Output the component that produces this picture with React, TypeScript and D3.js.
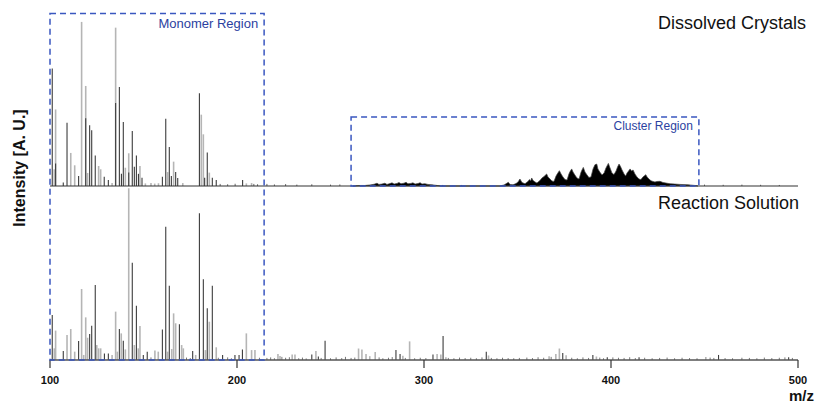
import React from "react";
import * as d3 from "d3";

// ---- Data (m/z, relative intensity 0-100 per panel) ----
const ticks = [100, 200, 300, 400, 500];

// Dissolved Crystals (top) - light gray peaks
const topLight: [number, number][] = [
  [102.3, 9.6], [103.0, 44], [111.1, 19], [113.2, 11.9], [116.9, 94.3], [119.1, 57.5], [120.1, 7.5],
  [126.0, 11.5], [127.1, 9.6], [133.2, 1.7], [135.1, 91], [140.3, 10.5], [142.1, 18.8], [148.1, 11.5],
  [151, 1.5], [154, 1.7], [156, 1.4], [158, 1.6], [162.9, 8], [166.1, 14], [171, 1.7], [180.9, 41],
  [182.0, 29.7], [185.2, 7.7], [205, 1.5], [207.8, 1.7],
];
// Dissolved Crystals (top) - dark peaks
const topDark: [number, number][] = [
  [101.2, 67.5], [103.0, 13], [107.1, 2], [109.1, 36.4], [115.3, 5.7], [119.1, 39], [121.2, 34.9],
  [122.3, 32], [124.2, 17.6], [129.0, 5.3], [131.2, 3.4], [135.1, 47.7], [137.1, 56.9], [138.2, 7],
  [139.2, 36.8], [142.1, 7.7], [144.0, 31.6], [145.1, 11], [146.2, 17.6], [147.3, 7], [149.2, 4.8],
  [160.1, 5.3], [161.9, 38.7], [163.8, 22.4], [164.9, 5.7], [167.2, 8], [168.3, 4.6], [179.9, 53.3],
  [182.7, 4.8], [184.1, 19.2], [186.8, 4.8], [188.9, 3.4], [203, 3.4],
];
const topNoise: [number, number][] = [
  [191, 1.2], [195, 1.0], [199, 1.3], [209, 1.2], [211, 1.0], [216, 1.2], [220, 0.9], [226, 1.1],
  [232, 0.8], [240, 1.0], [250, 0.8], [255, 0.9], [310, 0.6], [320, 0.6], [450, 0.8], [460, 0.7],
  [470, 0.8], [480, 0.7], [490, 0.6],
];
// Cluster envelope (top)
const clusterProfile: [number, number][] = [
  [262, 0], [265.8, 0.3], [268.4, 0.3], [271.1, 0.6], [273.3, 1.0], [274.9, 1.6], [275.9, 0.9],
  [277.5, 1.1], [279.1, 1.6], [280.2, 0.9], [281.8, 1.4], [282.9, 1.8], [284.0, 1.1], [285.6, 1.5],
  [286.6, 2.0], [287.7, 1.3], [289.3, 1.6], [290.4, 2.1], [291.4, 1.3], [293.0, 1.5], [294.1, 1.8],
  [295.2, 1.1], [296.8, 1.4], [297.9, 1.9], [298.9, 1.1], [300.5, 1.3], [302.1, 0.9], [304.3, 0.7],
  [307.0, 0.3], [309.6, 0],
  [340.6, 0], [342.8, 0.6], [345.1, 2.1], [346.0, 0.9], [347.6, 0.7], [349.2, 1.4], [350.3, 2.3],
  [351.3, 4.0], [352.4, 2.0], [354.0, 1.3], [355.6, 2.6], [356.4, 3.7], [357.0, 2.9], [357.6, 4.6],
  [358.3, 3.2], [359.4, 2.3], [360.4, 1.7], [362.0, 3.2], [363.1, 4.6], [364.2, 5.5], [365.6, 6.9],
  [366.3, 5.2], [367.4, 4.0], [368.4, 2.9], [369.5, 2.6], [370.6, 5.7], [371.4, 7.2], [372.4, 8.8],
  [373.3, 6.9], [374.3, 5.2], [375.4, 3.7], [376.5, 3.4], [377.5, 6.9], [378.1, 8.3], [379.0, 9.8],
  [379.7, 8.0], [380.7, 6.3], [381.8, 4.6], [382.9, 4.0], [384.0, 8.0], [384.5, 9.2], [385.2, 10.7],
  [386.1, 8.0], [387.2, 6.3], [388.2, 4.9], [389.3, 5.2], [390.4, 9.8], [391.4, 12.2], [392.4, 12.6],
  [393.0, 9.8], [394.1, 7.9], [395.2, 6.3], [396.3, 7.5], [397.3, 10.3], [398.6, 13.0], [399.5, 10.3],
  [400.5, 7.5], [401.6, 6.6], [402.7, 8.6], [403.5, 10.9], [404.3, 12.6], [405.1, 11.2], [405.9, 9.2],
  [407.0, 6.9], [407.8, 5.7], [408.6, 7.5], [409.4, 8.6], [410.2, 9.8], [411.0, 8.6], [411.8, 9.2],
  [412.8, 6.9], [413.9, 5.2], [415.0, 4.0], [416.0, 3.7], [417.1, 5.2], [418.6, 6.5], [419.3, 5.2],
  [420.3, 4.0], [421.4, 3.0], [422.5, 2.6], [423.5, 2.3], [424.6, 2.6], [426.2, 2.7], [427.8, 2.0],
  [429.4, 1.7], [431.6, 1.3], [434.2, 1.1], [436.9, 0.9], [441.2, 0.7], [444.9, 0.3], [446.5, 0],
];

// Reaction Solution (bottom) - light gray peaks
const botLight: [number, number][] = [
  [102.3, 6.7], [103.0, 16.9], [109.1, 14.4], [111.1, 17.8], [113.2, 4.8], [116.9, 40.8], [118.0, 2.9],
  [119.1, 24.5], [120.1, 12.8], [125.0, 8.6], [126.0, 6.7], [127.1, 6.7], [133.2, 2.9], [135.1, 27.8],
  [136.0, 4.8], [138.1, 15.3], [140.3, 6.1], [142.1, 98.7], [145.1, 8.6], [147.2, 6.7], [148.1, 19.5],
  [156.1, 5.4], [157.9, 4.8], [162.9, 4.8], [165.1, 6.3], [166.1, 26.8], [167.2, 21.1], [170.4, 8.6],
  [171.3, 6.7], [177.9, 2.9], [183.1, 5.7], [185.2, 22], [188.9, 7.3], [205, 15.3], [207.8, 5.7],
  [209.6, 5.7], [221.9, 3.4], [223, 2.3], [229.5, 3.2], [231, 3.2], [242.2, 5.2], [265, 6.6],
  [266.8, 6.1], [269, 3.4], [271, 2.2], [273.9, 4.6], [288.7, 2.5], [292.3, 10.7], [307, 3.4],
  [309, 3.2], [311.7, 1.6], [334.5, 2.6], [366.9, 2.2], [370.5, 3.4], [372.4, 6.6], [376, 2.8],
  [392.2, 2.0], [450.7, 1.7],
];
// Reaction Solution (bottom) - dark peaks
const botDark: [number, number][] = [
  [101.2, 25.9], [107.1, 5.2], [115.3, 10.9], [121.2, 14.9], [122.3, 19.7], [124.2, 43.1], [129.1, 3.8],
  [131.2, 3.8], [137.1, 17.8], [139.2, 11.1], [144.0, 55.9], [146.2, 31.2], [149.9, 2.9], [152.0, 4.8],
  [160.1, 17.6], [161.9, 76.6], [163.8, 42.7], [169.2, 20.5], [176.3, 5.2], [179.9, 84.3], [182.0, 46.4],
  [184.1, 29.7], [186.8, 42.7], [192.3, 2.9], [198.9, 2.9], [201.1, 2.9], [202.9, 6.1], [240, 3.2],
  [243.5, 2.0], [247.1, 11.1], [285, 5.7], [287.2, 3.4], [304.8, 3.2], [310.2, 13.8], [333.3, 4.8],
  [374.2, 4.0], [390.3, 2.9], [398, 1.6], [415, 1.6], [457.5, 2.9], [495, 1.6],
];
const botNoise: [number, number][] = [
  [154, 1.5], [158, 1.2], [173, 1.4], [175, 1.1], [190, 1.3], [195, 1.5], [197, 1.0], [212, 1.3],
  [216, 1.2], [218, 1.5], [220, 1.0], [224, 1.8], [226, 1.3], [228, 1.6], [233, 1.0], [235, 1.4],
  [237, 0.9], [245, 1.2], [250, 1.0], [253, 1.5], [256, 1.1], [258, 1.8], [261, 1.2], [263, 1.4],
  [276, 1.5], [278, 1.0], [281, 1.3], [283, 1.7], [290, 1.2], [295, 1.0], [298, 1.3], [301, 1.1],
  [313, 1.2], [316, 1.0], [319, 1.4], [322, 1.1], [325, 1.3], [328, 1.0], [331, 1.5], [336, 1.2],
  [339, 1.0], [342, 1.3], [345, 1.1], [348, 1.0], [351, 1.2], [355, 1.4], [358, 1.1], [361, 1.6],
  [364, 1.3], [368, 1.8], [379, 1.3], [382, 1.0], [385, 1.5], [388, 1.2], [394, 1.4], [396, 1.0],
  [401, 1.5], [404, 1.3], [407, 1.2], [410, 1.6], [413, 1.1], [418, 1.3], [422, 1.0], [426, 1.2],
  [430, 1.4], [434, 1.0], [438, 1.3], [442, 1.1], [446, 1.0], [453, 1.4], [455, 1.2], [461, 1.1],
  [465, 1.0], [470, 1.3], [474, 1.2], [478, 1.0], [482, 1.4], [486, 1.1], [490, 1.3], [493, 1.5],
  [497, 1.2],
];

const monomerRange = [100, 214.5];
const clusterRange = [261, 447];

const FONT = "'Liberation Sans', Arial, sans-serif";
const BLUE = "#3a57c0";

export default function App() {
  const x = d3.scaleLinear().domain([100, 500]).range([50, 798]);
  const yTop = d3.scaleLinear().domain([0, 100]).range([186, 12]);
  const yBot = d3.scaleLinear().domain([0, 100]).range([360, 186]);

  const area = d3
    .area<[number, number]>()
    .x((d) => x(d[0]))
    .y0(yTop(0))
    .y1((d) => yTop(d[1]));

  const peaks = (data: [number, number][], y: d3.ScaleLinear<number, number>, color: string, w: number, key: string) =>
    data.map((d, i) => (
      <line key={key + i} x1={x(d[0])} x2={x(d[0])} y1={y(0)} y2={y(d[1])} stroke={color} strokeWidth={w} />
    ));

  return (
    <svg width={816} height={404} style={{ position: "absolute", left: 0, top: 0, display: "block", background: "#fff" }} fontFamily={FONT}>
      {/* top panel */}
      {peaks(topNoise, yTop, "#666", 1, "tn")}
      {peaks(topLight, yTop, "#b5b5b5", 1.6, "tl")}
      {peaks(topDark, yTop, "#3c3c3c", 1.1, "td")}
      <path d={area(clusterProfile) || ""} fill="#000" stroke="#444" strokeWidth={0.7} strokeLinejoin="round" />
      <line x1={x(100)} x2={x(500)} y1={yTop(0)} y2={yTop(0)} stroke="#333" strokeWidth={1.2} />

      {/* bottom panel */}
      {peaks(botNoise, yBot, "#777", 1, "bn")}
      {peaks(botLight, yBot, "#b5b5b5", 1.6, "bl")}
      {peaks(botDark, yBot, "#3c3c3c", 1.1, "bd")}
      <line x1={x(100)} x2={x(500)} y1={yBot(0)} y2={yBot(0)} stroke="#555" strokeWidth={1.4} />
      {ticks.map((t) => (
        <g key={t}>
          <line x1={x(t)} x2={x(t)} y1={yBot(0)} y2={yBot(0) + 8} stroke="#333" strokeWidth={1.2} />
          <text x={x(t)} y={384} textAnchor="middle" fontSize={11} fontWeight="bold" fill="#111">
            {t}
          </text>
        </g>
      ))}
      <text x={814} y={401} textAnchor="end" fontSize={15} fontWeight="bold" fill="#111">m/z</text>

      {/* region boxes */}
      <rect
        x={x(monomerRange[0])}
        y={13.5}
        width={x(monomerRange[1]) - x(monomerRange[0])}
        height={yBot(0) - 13.5}
        fill="none"
        stroke={BLUE}
        strokeWidth={1.5}
        strokeDasharray="6,4"
      />
      <text x={x(monomerRange[1]) - 6} y={27.5} textAnchor="end" fontSize={13} fill="#2b3fa0">Monomer Region</text>
      <rect
        x={x(clusterRange[0])}
        y={117}
        width={x(clusterRange[1]) - x(clusterRange[0])}
        height={yTop(0) - 117}
        fill="none"
        stroke={BLUE}
        strokeWidth={1.5}
        strokeDasharray="6,4"
      />
      <text x={x(clusterRange[1]) - 6} y={130} textAnchor="end" fontSize={12} fill="#2b3fa0">Cluster Region</text>

      {/* panel labels */}
      <text x={806} y={29} textAnchor="end" fontSize={18} fill="#111">Dissolved Crystals</text>
      <text x={799} y={209} textAnchor="end" fontSize={18} fill="#111">Reaction Solution</text>

      {/* y label */}
      <text
        transform="translate(25,168) rotate(-90)"
        textAnchor="middle"
        fontSize={16}
        fontWeight="bold"
        fill="#111"
      >
        Intensity [A. U.]
      </text>
    </svg>
  );
}
